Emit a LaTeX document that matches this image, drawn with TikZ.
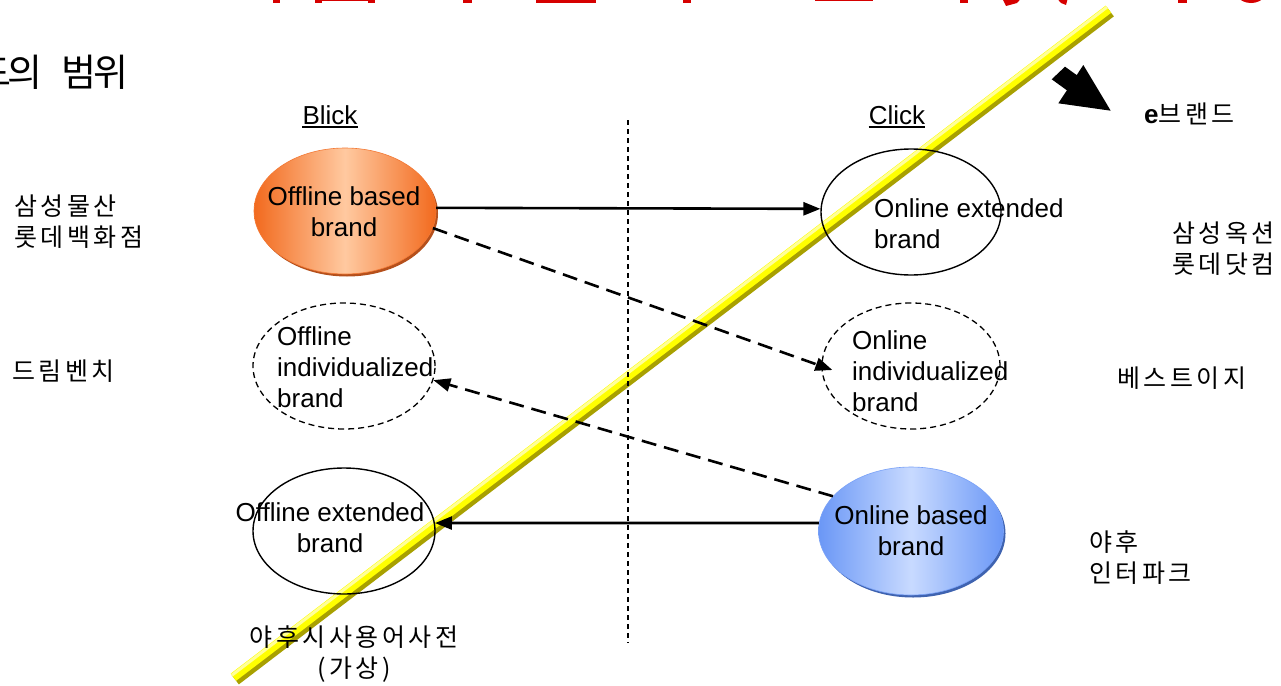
\documentclass[tikz,border=0pt]{standalone}
\usepackage{fontspec}
\setmainfont{Liberation Sans}
\newfontfamily\krfont[LetterSpace=14]{Noto Sans CJK KR}
\newfontfamily\krhead[LetterSpace=-8]{Noto Sans CJK KR}
\usetikzlibrary{arrows.meta,shapes.geometric}

\definecolor{orangeedge}{HTML}{F26A1E}
\definecolor{orangemid}{HTML}{FFC9A0}
\definecolor{orangerim}{HTML}{B5501C}
\definecolor{blueedge}{HTML}{6A97F6}
\definecolor{bluemid}{HTML}{C8DAFF}
\definecolor{bluerim}{HTML}{3F63B0}
\definecolor{barolive}{HTML}{A8A000}
\definecolor{baryellow}{HTML}{FFFF00}
\definecolor{barlight}{HTML}{FFFF99}
\definecolor{titlered}{HTML}{D60000}

\begin{document}
\begin{tikzpicture}[x=1pt,y=-1pt,
  brand/.style={ellipse, minimum width=182pt, minimum height=126pt, inner sep=0pt},
  solidring/.style={brand, draw, line width=1.4pt},
  dashring/.style={brand, draw, line width=1.3pt, dash pattern=on 6pt off 4pt},
  eng/.style={font=\fontsize{26}{31}\selectfont, inner sep=0pt},
  kor/.style={font=\krfont\fontsize{25}{31}\selectfont, inner sep=0pt, align=left, anchor=west},
  link/.style={line width=2.6pt, -{Triangle[length=17pt,width=13pt]}},
  dashlink/.style={link, dash pattern=on 15pt off 8pt},
]
\useasboundingbox (0,0) rectangle (1281,685);
\fill[white] (0,0) rectangle (1281,685);

% red heading, only the lower edge of its letters is on the page
\begin{scope}[titlered]
  \fill (273,-10) rectangle (280,3);
  \fill (315,-10) rectangle (375,0.6);
  \fill (315,-10) rectangle (322,3);
  \fill (368,-10) rectangle (375,3);
  \fill (463,-10) rectangle (472,3);
  \fill (536,-10) rectangle (596,3);
  \fill (683,-10) rectangle (691,3);
  \fill (815,-10) rectangle (873,1);
  \fill (960,-10) rectangle (968,3);
  \fill (1000,-6) -- (1025,-6) -- (1017,3) -- (1006,6) -- cycle;
  \fill (1053,-6) -- (1069,-6) -- (1066,5) -- (1061,3) -- cycle;
  \fill (1178,-10) rectangle (1187,3);
  \draw[line width=6pt] (1251,-18) ellipse (17 and 18);
\end{scope}

% diagonal marker bar
\coordinate (barlow) at (234,678);
\coordinate (barhigh) at (1109,10);
\draw[barolive, line width=12pt] ([shift={(1.2,1.6)}]barlow) -- ([shift={(1.2,1.6)}]barhigh);
\draw[baryellow, line width=9pt] ([shift={(-0.6,-0.8)}]barlow) -- ([shift={(-0.6,-0.8)}]barhigh);
\draw[barlight, line width=3pt] ([shift={(-2.1,-2.8)}]barlow) -- ([shift={(-2.1,-2.8)}]barhigh);

% divider between the two worlds
\coordinate (divtop) at (628,120);
\coordinate (divbot) at (628,643);
\draw[line width=1.2pt, dash pattern=on 5pt off 4pt] (divtop) -- (divbot);

% brand ellipses
\node[brand, fill=orangerim] (obrim) at (347,213.5) {};
\node[brand, draw=orangeedge!90!white, line width=0.6pt, left color=orangeedge, right color=orangeedge, middle color=orangemid] (ob) at (345,211) {};
\node[dashring] (oin) at (344,366) {};
\node[solidring] (oex) at (344,531) {};
\node[solidring, minimum width=180pt] (oe) at (911,212) {};
\node[dashring, minimum width=178pt] (oi) at (911,366) {};
\node[brand, fill=bluerim, minimum width=185pt, minimum height=128pt] (onbrim) at (913,533.5) {};
\node[brand, draw=blueedge!90!white, line width=0.6pt, minimum width=185pt, minimum height=128pt, left color=blueedge, right color=blueedge, middle color=bluemid] (onb) at (911,531) {};

% ellipse captions
\node[eng, align=center] (obt) at (344,212) {Offline based\\brand};
\node[eng, align=left, anchor=west] (oint) at (277,367) {Offline\\individualized\\brand};
\node[eng, align=center] (oext) at (330,528) {Offline extended\\brand};
\node[eng, align=left, anchor=west] (oet) at (874,224) {Online extended\\brand};
\node[eng, align=left, anchor=west] (oit) at (852,371) {Online\\individualized\\brand};
\node[eng, align=center] (onbt) at (911,531) {Online based\\brand};

% transitions
\draw[link] (ob.2) -- (oe.178);
\draw[dashlink] (ob.-11) -- ([shift={(11,4)}]oi.west);
\draw[dashlink] (onb.156) -- (oin.-9);
\draw[link] (onb.175) -- (oex.5);

% column headings
\node[eng, anchor=base] (blick) at (330,124) {Blick};
\node[eng, anchor=base] (click) at (897,124) {Click};
\draw[line width=1.6pt] ([yshift=-3pt]blick.base west) -- ([yshift=-3pt]blick.base east);
\draw[line width=1.6pt] ([yshift=-3pt]click.base west) -- ([yshift=-3pt]click.base east);

% block arrow towards e-brand
\fill (1051.7,79.3) -- (1065,66.7) -- (1076.7,75.1) -- (1083.3,65) -- (1110.7,110.7)
      -- (1058.3,103.3) -- (1066.9,90.3) -- cycle;
\node[anchor=west, inner sep=0pt] (ebrand) at (1144,114)
  {\fontsize{26}{31}\selectfont\bfseries e\mdseries\krfont\fontsize{25}{31}\selectfont 브랜드};

% heading on the left
\node[anchor=east, inner sep=0pt, font=\krhead\fontsize{38}{44}\selectfont] (heading) at (129,72) {드의\hspace{19pt}범위};

% company examples
\node[kor] (k1) at (14,222) {삼성물산\\롯데백화점};
\node[kor] (k2) at (12,371) {드림벤치};
\node[kor] (k3) at (1172,249) {삼성옥션\\롯데닷컴};
\node[kor] (k4) at (1117,378) {베스트이지};
\node[kor] (k5) at (1089,558) {야후\\인터파크};
\node[kor, align=center, anchor=center] (k6) at (354,654) {야후시사용어사전\\(가상)};
\end{tikzpicture}
\end{document}
